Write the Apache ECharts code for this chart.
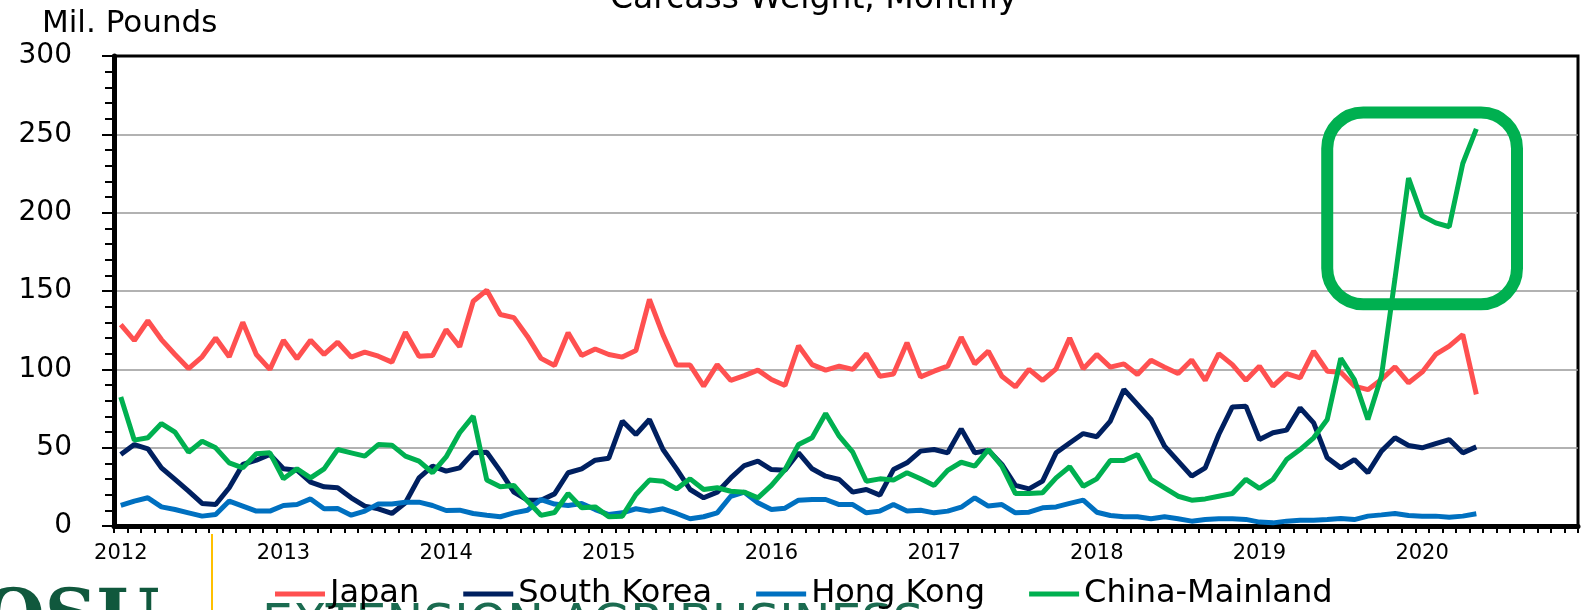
<!DOCTYPE html>
<html>
<head>
<meta charset="utf-8">
<title>Carcass Weight, Monthly</title>
<script src="https://cdn.jsdelivr.net/npm/echarts@6/dist/echarts.min.js"></script>
<style>
  html, body { margin: 0; padding: 0; background: #fff; }
  #chart { width: 1581px; height: 610px; }
</style>
</head>
<body>
<div id="chart"></div>
<script>
// months Jan 2012 - Dec 2020 on the axis, data runs to May 2020
const years = ['2012', '2013', '2014', '2015', '2016', '2017', '2018', '2019', '2020'];
const monthNums = ['01', '02', '03', '04', '05', '06', '07', '08', '09', '10', '11', '12'];
const months = [];
years.forEach(y => monthNums.forEach(m => months.push(y + '-' + m)));

// Mil. pounds, carcass weight
const japan = [
  128.6, 118.4, 131, 119, 109.5, 100.5, 108, 120, 108, 130, 109.5, 100,
  118.6, 106.7, 118.6, 109.5, 117.3, 107.8, 111, 108.4, 104.6, 123.7, 108.4, 108.8,
  125.4, 114.4, 143.5, 150.5, 135, 133, 121, 107, 102.5, 123.3, 108.8, 113,
  109.5, 107.8, 112, 144.6, 122, 102.7, 102.7, 89.3, 103, 93, 96, 99.5,
  93.5, 89.7, 115, 103, 99.5, 102, 100, 110, 95.6, 97, 117, 95.2,
  98.8, 102, 120.5, 103.5, 111.6, 95.6, 88.8, 100, 92.9, 100.3, 120, 100.3,
  109.5, 101.4, 103.5, 96.7, 105.8, 101.4, 97.3, 106, 93, 110, 103, 93,
  102, 89.3, 97.3, 94.6, 111.6, 98.8, 98.2, 89.3, 87, 93.5, 101.6, 91.4,
  98.2, 109.5, 114.8, 122.2, 84
];
const southKorea = [
  45.6, 52, 49.3, 37.1, 29.7, 22.2, 14.4, 13.7, 24.4, 39.3, 42, 45.6,
  36.5, 35.6, 28, 25, 24.4, 18, 12.7, 11, 8, 14.8, 30.7, 38.2,
  35, 37.1, 46.7, 47.1, 35, 21.6, 16.5, 16.5, 20.5, 34, 36.5, 42,
  43.3, 67, 58.4, 68, 48.8, 36.5, 23.3, 18, 21.6, 30.7, 38.6, 41.4,
  36, 35.6, 46.7, 36.5, 31.8, 29.7, 21.6, 23.3, 19.7, 36, 40.3, 47.8,
  48.8, 46.7, 62, 46.7, 48.4, 39.3, 25.9, 23.7, 28.6, 46.7, 53, 59,
  57, 67, 87.1, 77.6, 68, 51, 41.4, 31.8, 37.1, 58.4, 76, 76.5,
  55.2, 59.5, 61.2, 75.4, 65.8, 43.5, 37.1, 42.4, 34, 47.8, 56.3, 51.4,
  49.9, 52.6, 55.2, 46.7, 50.5
];
const hongKong = [
  13.1, 15.9, 18, 12.2, 10.5, 8.4, 6.3, 7.3, 15.9, 12.7, 9.5, 9.5,
  13.1, 13.7, 17.3, 11, 11.2, 6.9, 9.5, 14.1, 14.1, 15.2, 15.2, 13.1,
  9.9, 10.1, 8, 6.9, 5.9, 8.4, 10.1, 16.9, 14, 13.1, 14.4, 10.5,
  7.3, 8.4, 11, 9.5, 11, 8, 4.6, 5.9, 8.4, 19, 21.6, 14.8,
  10.5, 11.4, 16.5, 16.9, 16.9, 13.7, 13.7, 8.4, 9.5, 13.7, 9.5, 10.1,
  8.4, 9.5, 12, 18, 12.7, 13.7, 8.4, 8.8, 11.6, 12.2, 14.4, 16.5,
  8.8, 6.7, 5.9, 5.9, 4.6, 5.9, 4.6, 3.1, 4.1, 4.6, 4.6, 4.2,
  2.5, 2, 3.1, 3.7, 3.7, 4.1, 4.8, 4.1, 6.3, 7.1, 8, 6.7,
  6.3, 6.3, 5.6, 6.3, 7.8
];
const chinaMainland = [
  82.4, 54.8, 56.3, 65.4, 59.9, 47.1, 54.1, 49.9, 40.3, 37.1, 46.1, 46.7,
  30.1, 36.5, 30.7, 36.5, 48.8, 46.7, 44.6, 52, 51.6, 44.6, 41.4, 34,
  44.1, 59.5, 70.1, 29.3, 25, 25.9, 15.9, 6.8, 8.6, 20.7, 11.6, 12.2,
  5.9, 6.3, 20.1, 29.3, 28.6, 23.7, 30.1, 23.3, 24.4, 22.2, 21.6, 18,
  25.9, 36, 52, 56.3, 71.8, 57.3, 47.1, 28.6, 30.1, 29.3, 34, 30.1,
  25.9, 35.5, 40.7, 38.2, 48.8, 38.2, 20.7, 20.7, 21.2, 30.7, 37.8, 25.4,
  30.1, 41.8, 41.8, 45.6, 29.7, 24.4, 19, 16.5, 17.3, 19, 20.7, 29.8,
  24, 29.7, 42.4, 48.8, 56.3, 68, 107, 93.5, 68, 95.6, 158, 222,
  198, 193.5, 191, 231.4, 253.5
];

// highlight box around the China surge (months and values)
const boxMonths = ['2019-06', '2020-08'];
const boxValues = [264, 141.5];

const seriesNames = ['Japan', 'South Korea', 'Hong Kong', 'China-Mainland'];
const seriesColors = ['#FF5050', '#002060', '#0070C0', '#00B050'];
const seriesData = [japan, southKorea, hongKong, chinaMainland];

const font = 'DejaVu Sans';
const chart = echarts.init(document.getElementById('chart'));

const option = {
  animation: false,
  backgroundColor: '#fff',
  title: [
    {
      text: 'Carcass Weight, Monthly',
      left: 610,
      top: -17,
      padding: 0,
      textStyle: { fontSize: 33, fontWeight: 'normal', fontFamily: font, color: '#000' }
    },
    {
      text: 'Mil. Pounds',
      left: 42,
      top: 8,
      padding: 0,
      textStyle: { fontSize: 31, fontWeight: 'normal', fontFamily: font, color: '#000' }
    }
  ],
  legend: {
    left: 270,
    top: 573,
    icon: 'rect',
    itemWidth: 50,
    itemHeight: 5,
    itemGap: 44,
    data: seriesNames,
    textStyle: { fontSize: 32, fontFamily: font, color: '#000', padding: [0, 0, 0, 0] }
  },
  grid: {
    left: 114,
    right: 3,
    top: 56,
    bottom: 84,
    show: true,
    borderColor: '#000',
    borderWidth: 3,
    outerBoundsMode: 'none'
  },
  xAxis: {
    type: 'category',
    data: months,
    boundaryGap: true,
    axisLine: { lineStyle: { color: '#000', width: 5 } },
    axisTick: { show: true, interval: 0, length: 7, lineStyle: { color: '#000', width: 2 } },
    axisLabel: {
      interval: 11,
      formatter: v => v.slice(0, 4),
      fontSize: 21,
      fontFamily: font,
      color: '#000',
      margin: 17
    },
    splitLine: { show: false }
  },
  yAxis: {
    type: 'value',
    min: 0,
    max: 300,
    interval: 50,
    axisLine: { show: true, lineStyle: { color: '#000', width: 5 } },
    axisTick: { show: true, length: 12, lineStyle: { color: '#000', width: 2 } },
    minorTick: { show: true, splitNumber: 5, length: 9, lineStyle: { color: '#000', width: 2 } },
    axisLabel: { fontSize: 28, fontFamily: font, color: '#000', margin: 42 },
    splitLine: { showMaxLine: false, lineStyle: { color: '#999', width: 1.5 } }
  },
  series: seriesNames.map((name, i) => ({
    name: name,
    type: 'line',
    data: seriesData[i],
    symbol: 'none',
    lineStyle: { color: seriesColors[i], width: 5 },
    itemStyle: { color: seriesColors[i] },
    emphasis: { disabled: true }
  }))
};

chart.setOption(option);

// annotation box placed in data space
const p1 = chart.convertToPixel({ gridIndex: 0 }, [boxMonths[0], boxValues[0]]);
const p2 = chart.convertToPixel({ gridIndex: 0 }, [boxMonths[1], boxValues[1]]);

chart.setOption({
  graphic: [
    {
      type: 'rect',
      z: 100,
      shape: { x: p1[0], y: p1[1], width: p2[0] - p1[0], height: p2[1] - p1[1], r: 36 },
      style: { fill: 'none', stroke: '#00B050', lineWidth: 12 }
    },
    {
      type: 'line',
      shape: { x1: 212, y1: 534, x2: 212, y2: 610 },
      style: { stroke: '#FFC000', lineWidth: 2 }
    },
    {
      type: 'text',
      x: -18,
      y: 586,
      style: { text: 'OSU', font: 'bold 72px "DejaVu Serif"', fill: '#10583d', verticalAlign: 'top' }
    },
    {
      type: 'text',
      x: 262,
      y: 602,
      style: { text: 'EXTENSION AGRIBUSINESS', font: '49px "DejaVu Sans"', fill: '#1b6b50', verticalAlign: 'top' }
    }
  ]
});
</script>
</body>
</html>
